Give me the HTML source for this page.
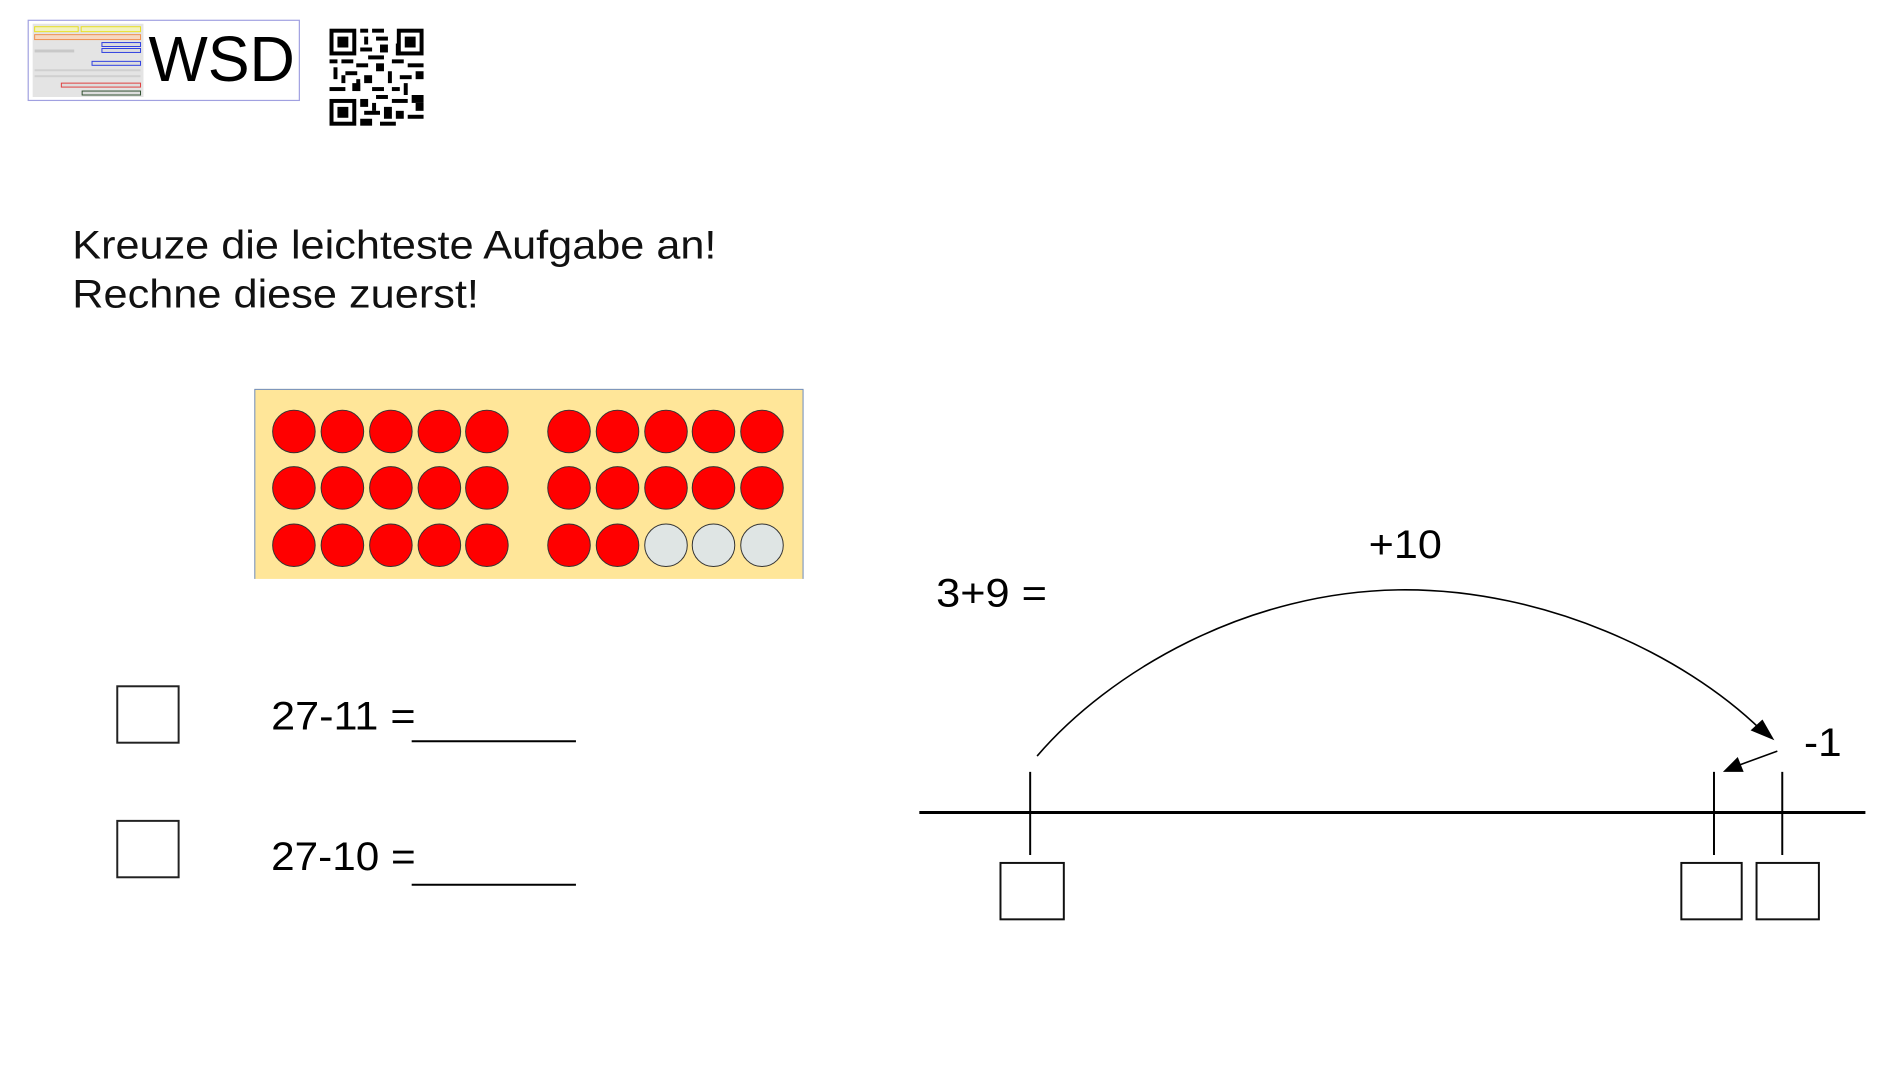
<!DOCTYPE html>
<html><head><meta charset="utf-8"><style>html,body{margin:0;padding:0;background:#fff;}svg{display:block}</style></head>
<body>
<svg width="1900" height="1078" viewBox="0 0 1900 1078" xmlns="http://www.w3.org/2000/svg" font-family="Liberation Sans, Arial, sans-serif">
<rect width="1900" height="1078" fill="#fff"/>
<g transform="scale(0.9896)">
<!-- logo -->
<rect x="28.5" y="20.5" width="274" height="81" fill="#fff" stroke="#a0a0e0" stroke-width="1.2"/>
<rect x="33" y="24" width="112" height="74" fill="#e4e4e4"/>
<rect x="35" y="27" width="44" height="5" fill="#f2f2c0" stroke="#e8e020" stroke-width="1"/>
<rect x="82" y="27" width="60" height="5" fill="#f2f2c0" stroke="#e8e020" stroke-width="1"/>
<rect x="35" y="35" width="107" height="5" fill="#f6d8c0" stroke="#f09050" stroke-width="1"/>
<rect x="103" y="43" width="39" height="4" fill="#ddd" stroke="#3040e0" stroke-width="1"/>
<rect x="103" y="49" width="39" height="4" fill="#ddd" stroke="#3040e0" stroke-width="1"/>
<rect x="35" y="50" width="40" height="3" fill="#c8c8c8"/>
<rect x="93" y="62" width="49" height="4" fill="#ddd" stroke="#3040e0" stroke-width="1"/>
<rect x="62" y="84" width="80" height="4" fill="#ddd" stroke="#e04040" stroke-width="1"/>
<rect x="83" y="92" width="59" height="4" fill="#ddd" stroke="#305030" stroke-width="1"/>
<rect x="35" y="70" width="107" height="2" fill="#d0d0d0"/>
<rect x="35" y="76" width="107" height="2" fill="#d0d0d0"/>
<text x="150" y="82" font-size="65" textLength="148" lengthAdjust="spacingAndGlyphs" fill="#000">WSD</text>
<!-- QR -->
<g fill="#000">
<rect x="333" y="29" width="27" height="27"/><rect x="337" y="33" width="19" height="19" fill="#fff"/><rect x="341" y="37" width="11" height="11"/>
<rect x="401" y="29" width="27" height="27"/><rect x="405" y="33" width="19" height="19" fill="#fff"/><rect x="409" y="37" width="11" height="11"/>
<rect x="333" y="100" width="27" height="27"/><rect x="337" y="104" width="19" height="19" fill="#fff"/><rect x="341" y="108" width="11" height="11"/>
<rect x="364" y="29" width="8" height="4"/><rect x="376" y="29" width="12" height="4"/><rect x="368" y="37" width="4" height="8"/><rect x="380" y="37" width="12" height="4"/>
<rect x="364" y="48" width="12" height="4"/><rect x="384" y="45" width="8" height="8"/><rect x="372" y="56" width="16" height="4"/>
<rect x="333" y="60" width="8" height="4"/><rect x="345" y="60" width="12" height="4"/><rect x="360" y="64" width="12" height="4"/><rect x="380" y="64" width="8" height="8"/>
<rect x="396" y="60" width="12" height="4"/><rect x="412" y="64" width="16" height="4"/><rect x="337" y="68" width="4" height="12"/><rect x="349" y="72" width="12" height="4"/>
<rect x="368" y="76" width="8" height="8"/><rect x="392" y="72" width="4" height="12"/><rect x="404" y="76" width="12" height="4"/><rect x="420" y="72" width="8" height="8"/>
<rect x="333" y="88" width="16" height="4"/><rect x="356" y="84" width="8" height="8"/><rect x="376" y="88" width="12" height="4"/><rect x="396" y="88" width="8" height="4"/>
<rect x="408" y="84" width="4" height="12"/><rect x="364" y="100" width="8" height="8"/><rect x="380" y="96" width="12" height="4"/><rect x="396" y="100" width="16" height="4"/>
<rect x="416" y="96" width="12" height="8"/><rect x="368" y="112" width="16" height="4"/><rect x="388" y="108" width="8" height="12"/><rect x="400" y="112" width="8" height="8"/>
<rect x="412" y="116" width="16" height="4"/><rect x="364" y="120" width="12" height="7"/><rect x="384" y="123" width="16" height="4"/><rect x="420" y="104" width="8" height="8"/>
<rect x="345" y="76" width="4" height="8"/><rect x="376" y="104" width="4" height="8"/><rect x="400" y="44" width="4" height="12"/><rect x="360" y="80" width="4" height="12"/>
</g>
<!-- title -->
<text x="73" y="261" font-size="40" textLength="651" lengthAdjust="spacingAndGlyphs" fill="#111">Kreuze die leichteste Aufgabe an!</text>
<text x="73" y="311" font-size="40" textLength="411" lengthAdjust="spacingAndGlyphs" fill="#111">Rechne diese zuerst!</text>
<!-- dots box -->
<rect x="257" y="393" width="555" height="192" fill="#ffe699"/>
<path d="M257.5 585 V393.5 H811.5 V585" fill="none" stroke="#6d8cc0" stroke-width="1"/>
<g stroke="#333" stroke-width="1">
<g fill="#ff0000">
<circle cx="297" cy="436" r="21.5"/><circle cx="346" cy="436" r="21.5"/><circle cx="395" cy="436" r="21.5"/><circle cx="444" cy="436" r="21.5"/><circle cx="492" cy="436" r="21.5"/>
<circle cx="575" cy="436" r="21.5"/><circle cx="624" cy="436" r="21.5"/><circle cx="673" cy="436" r="21.5"/><circle cx="721" cy="436" r="21.5"/><circle cx="770" cy="436" r="21.5"/>
<circle cx="297" cy="493" r="21.5"/><circle cx="346" cy="493" r="21.5"/><circle cx="395" cy="493" r="21.5"/><circle cx="444" cy="493" r="21.5"/><circle cx="492" cy="493" r="21.5"/>
<circle cx="575" cy="493" r="21.5"/><circle cx="624" cy="493" r="21.5"/><circle cx="673" cy="493" r="21.5"/><circle cx="721" cy="493" r="21.5"/><circle cx="770" cy="493" r="21.5"/>
<circle cx="297" cy="551" r="21.5"/><circle cx="346" cy="551" r="21.5"/><circle cx="395" cy="551" r="21.5"/><circle cx="444" cy="551" r="21.5"/><circle cx="492" cy="551" r="21.5"/>
<circle cx="575" cy="551" r="21.5"/><circle cx="624" cy="551" r="21.5"/>
</g>
<g fill="#dfe5e4"><circle cx="673" cy="551" r="21.5"/><circle cx="721" cy="551" r="21.5"/><circle cx="770" cy="551" r="21.5"/></g>
</g>
<!-- checkboxes -->
<rect x="118.5" y="693.5" width="62" height="57" fill="none" stroke="#222" stroke-width="2"/>
<rect x="118.5" y="829.5" width="62" height="57" fill="none" stroke="#222" stroke-width="2"/>
<text x="274" y="737" font-size="40" textLength="146" lengthAdjust="spacingAndGlyphs" fill="#000">27-11 =</text>
<text x="274" y="879" font-size="40" textLength="146" lengthAdjust="spacingAndGlyphs" fill="#000">27-10 =</text>
<line x1="416" y1="749" x2="582" y2="749" stroke="#000" stroke-width="2"/>
<line x1="416" y1="894" x2="582" y2="894" stroke="#000" stroke-width="2"/>
<!-- number line -->
<text x="946" y="613" font-size="40" textLength="112" lengthAdjust="spacingAndGlyphs" fill="#000">3+9 =</text>
<text x="1383" y="564" font-size="40" textLength="74" lengthAdjust="spacingAndGlyphs" fill="#000">+10</text>
<text x="1823" y="764" font-size="40" textLength="38" lengthAdjust="spacingAndGlyphs" fill="#000">-1</text>
<line x1="929" y1="821" x2="1885" y2="821" stroke="#000" stroke-width="3"/>
<g stroke="#000" stroke-width="2">
<line x1="1041" y1="780" x2="1041" y2="864"/>
<line x1="1732" y1="780" x2="1732" y2="864"/>
<line x1="1801" y1="780" x2="1801" y2="864"/>
</g>
<g fill="none" stroke="#111" stroke-width="2">
<rect x="1011" y="872" width="64" height="57"/>
<rect x="1699" y="872" width="61" height="57"/>
<rect x="1775" y="872" width="63" height="57"/>
</g>
<path d="M1048 764 C1120 680 1260 596 1420 596 C1560 596 1700 660 1780 738" fill="none" stroke="#000" stroke-width="1.6"/>
<polygon points="1793,748 1769,738 1781,727" fill="#000"/>
<line x1="1796" y1="759" x2="1755" y2="774" stroke="#000" stroke-width="1.6"/>
<polygon points="1741,780 1756,765 1762,780" fill="#000"/>
</g>
</svg>
</body></html>
